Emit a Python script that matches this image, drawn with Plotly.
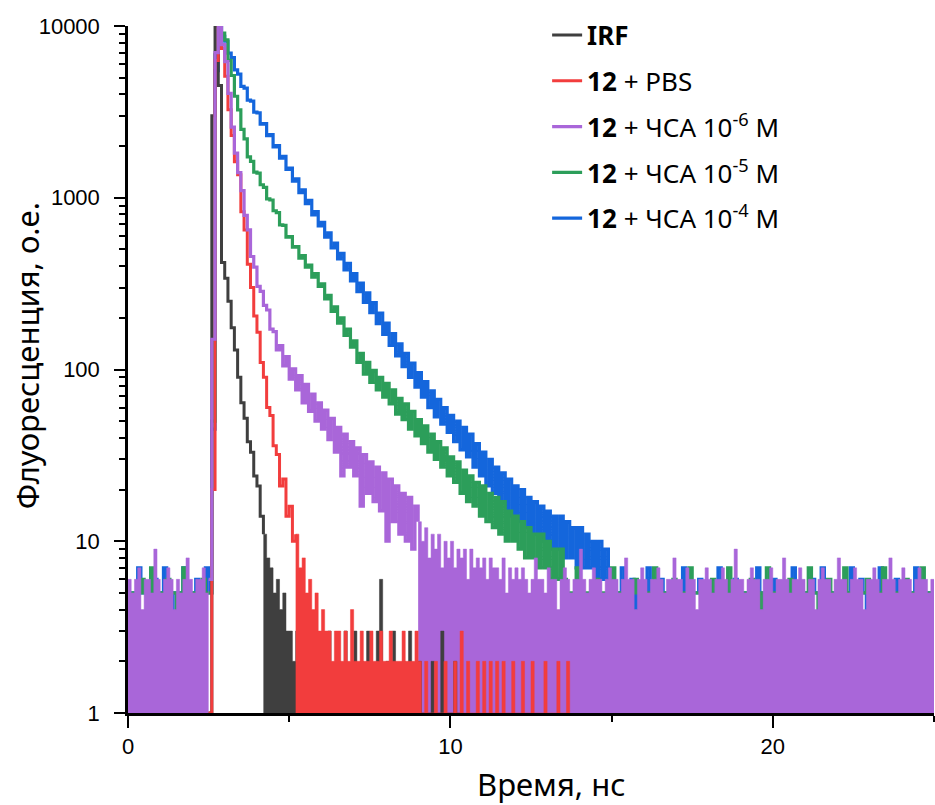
import plotly.graph_objects as go

# time step of the decay channels (ns)
step = 0.1

# purple: 12 + HSA 1e-6 M (background before the pulse, decay, long tail)
purple_pre_t0 = 0.0
purple_pre = [6, 5, 6, 7, 4, 6, 6, 5, 9, 6, 5, 6, 7, 6, 4, 6, 5, 6, 8, 6, 5, 6, 6, 7, 5, 6]
purple_decay_t0 = 2.5
purple_decay = [6, 150, 7000, 10000, 7800, 6200, 4050, 2580, 1820, 1400,
                1100, 790, 650, 455, 395, 305, 285, 236, 222, 172,
                166, 130, 138, 105, 119, 88, 101, 76, 92, 64,
                82, 57, 72, 50, 64, 45, 58, 39, 52, 33,
                46, 24, 42, 27, 38, 24, 35, 16, 32, 19,
                29, 17, 27, 15, 25, 10, 23, 13, 21, 11,
                19, 10, 18, 9, 16, 13]
purple_tail_t0 = 9.0
purple_tail = [13, 10, 12, 8, 11, 9, 11, 7, 10, 8, 10, 7, 9, 8, 9, 6, 9, 7, 8, 7,
               8, 6, 8, 7, 7, 6, 8, 5, 7, 6, 7,
               6, 7, 6, 5, 6, 8, 6, 6, 5, 7, 6, 6, 4, 6, 7, 6, 5, 6, 6, 9, 6, 5, 6, 7, 6, 6, 5, 6, 7, 6,
               6, 5, 6, 8, 6, 6, 4, 6, 7, 6, 5, 6, 6, 7, 6, 5, 6, 6, 8, 6, 6, 5, 7, 6, 6, 4, 6, 6, 7, 6,
               5, 6, 6, 7, 6, 5, 6, 9, 6, 6, 5, 6, 7, 6, 6, 4, 6, 6, 7, 5, 6, 6, 8, 6, 5, 6, 6, 7, 6, 5,
               6, 6, 4, 6, 7, 6, 6, 5, 6, 8, 6, 6, 5, 6, 7, 6, 6, 4, 6, 6, 7, 6, 5, 6, 6, 8, 6, 5, 6, 7,
               6, 6, 5, 6, 7, 6, 6, 5, 6, 6]

# blue: 12 + HSA 1e-4 M
blue_pre_t0 = 0.0
blue_pre = [5, 4, 5, 7, 5, 5, 4, 5, 6, 5, 5, 7, 5, 4, 5, 5, 5, 7, 5, 4, 5, 6, 5, 5, 7, 5]
blue_decay_t0 = 2.6
blue_decay = [45, 5500, 10000, 8700, 8150, 6950, 6550, 5550, 5250, 4450,
              4350, 3700, 3650, 3150, 3120, 2680, 2700, 2300, 2330, 1980,
              2010, 1700, 1740, 1460, 1490, 1250, 1290, 1070, 1110, 925,
              965, 795, 830, 685, 720, 590, 625, 510, 545, 440,
              475, 380, 415, 328, 362, 284, 318, 246, 279, 214,
              245, 185, 213, 160, 186, 138, 162, 120, 141, 104,
              124, 90, 109, 79, 96, 69, 85, 60, 75, 53,
              67, 48, 60, 43, 54, 38, 50, 34, 46, 31,
              42, 27, 37, 24, 33, 21, 30, 19, 27, 17,
              25, 15, 23, 14, 21, 13, 20, 12, 18, 11,
              17, 10, 16, 10, 15, 9, 14, 9, 14, 8,
              13, 8, 12, 7, 12, 7, 11, 7, 10, 6,
              10, 6, 9, 6]
blue_tail_t0 = 15.0
blue_tail = [5, 4, 5, 7, 5, 5, 6, 4, 5, 5, 5, 7, 5, 4, 5, 6, 5, 5, 4, 5,
             5, 5, 7, 5, 4, 5, 5, 6, 5, 5, 4, 5, 5, 7, 5, 5, 4, 5, 6, 5,
             5, 4, 5, 5, 5, 7, 5, 5, 4, 5, 6, 5, 5, 4, 5, 5, 7, 5, 5, 5,
             4, 5, 6, 5, 5, 7, 5, 4, 5, 5, 5, 5, 4, 5, 7, 5, 5, 6, 5, 4,
             5, 5, 5, 7, 5, 4, 5, 5, 6, 5, 5, 4, 5, 5, 7, 5, 5, 5, 4, 5, 5]

# green: 12 + HSA 1e-5 M
green_pre_t0 = 0.0
green_pre = [5, 5, 4, 5, 6, 5, 5, 7, 5, 4, 5, 5, 6, 5, 5, 4, 5, 7, 5, 5, 4, 5, 5, 6, 5, 5]
green_decay_t0 = 2.6
green_decay = [50, 6800, 10000, 9100, 8300, 6300, 5150, 3900, 3250, 2500,
               2200, 1730, 1630, 1410, 1390, 1190, 1150, 985, 970, 840,
               820, 695, 690, 590, 595, 515, 520, 445, 460, 395,
               405, 345, 362, 305, 315, 258, 270, 218, 232, 186,
               200, 158, 172, 135, 147, 110, 124, 94, 110, 84,
               99, 76, 90, 69, 83, 63, 76, 55, 68, 51,
               63, 45, 57, 41, 51, 37, 47, 33, 42, 30,
               38, 27, 35, 24, 31, 22, 29, 19, 26, 17,
               24, 16, 22, 14, 21, 13, 19, 12, 18, 11,
               17, 10, 15, 10, 14, 9, 13, 8, 12, 8,
               11, 7, 11, 7, 10, 6, 9, 6, 9, 6]
green_tail_t0 = 13.6
green_tail = [5, 4, 5, 7, 5, 5, 4, 5, 5, 6, 5, 4, 5, 5, 7, 5, 5, 4, 5, 5,
              5, 6, 5, 4, 5, 5, 5, 7, 5, 5, 4, 5, 5, 6, 5, 5, 4, 5, 7, 5,
              5, 5, 4, 5, 5, 6, 5, 5, 4, 5, 7, 5, 5, 5, 4, 5, 5, 6, 5, 5,
              4, 5, 7, 5, 5, 5, 4, 5, 5, 6, 5, 5, 4, 5, 5, 7, 5, 5, 4, 5,
              5, 6, 5, 5, 4, 5, 7, 5, 5, 5, 4, 5, 5, 6, 5, 5, 4, 5, 7, 5,
              5, 5, 4, 5, 5, 6, 5, 5, 4, 5, 7, 5, 5, 4, 5]

# red: 12 + PBS
red_decay_t0 = 2.5
red_decay = [1, 20, 6300, 10000, 7400, 5100, 3250, 2300, 1620, 1360, 830,
             650, 410, 300, 205, 165, 110, 90, 60, 54, 36,
             32, 21, 23, 14, 16, 10, 11]
red_tail_t0 = 5.2
red_tail = [11, 7, 8, 5, 6, 4, 5, 3, 4, 3, 3, 2, 3, 3, 2, 3, 2, 4, 2, 2,
            3, 2, 2, 3, 2, 2, 3, 2, 2, 3, 2, 2, 2, 3, 2, 2, 2, 3, 2, 1,
            2, 1, 1, 2, 1, 1, 2, 1, 1, 2, 1, 3, 1, 2, 1, 1, 2, 1, 2, 1,
            2, 1, 2, 1, 2, 1, 1, 2, 1, 1, 2, 1, 1, 2, 1, 1, 1, 2, 1, 1,
            1, 2, 1, 1, 2, 1]

# IRF (instrument response function)
irf_decay_t0 = 2.5
irf_decay = [1, 3000, 10000, 4500, 420, 340, 250, 175, 130, 90, 64, 52, 38, 33, 24, 21, 14, 11]
irf_tail_t0 = 4.2
irf_tail = [11, 8, 7, 5, 6, 4, 5, 3, 3, 2, 3, 1, 2, 1, 1, 3, 1, 1, 2, 1,
            3, 1, 1, 2, 1, 3, 1, 1, 3, 1, 2, 1, 3, 1, 1, 3, 6, 1, 2, 1,
            3, 1, 1, 2, 1, 3, 1, 1, 2, 1, 1, 1, 2, 1, 1, 3, 1, 1, 1, 2,
            1, 1, 1]

x_ticks = [0, 10, 20]
x_minor = [5, 15, 25]
y_ticks = [1, 10, 100, 1000, 10000]
y_minor = [m * d for d in [1, 10, 100, 1000] for m in range(2, 10)]

c_irf = '#3f3f3f'
c_red = '#f23d3d'
c_purple = '#a966d9'
c_green = '#2c9e5a'
c_blue = '#1466dc'


def times(t0, n):
    return [round(t0 + step * i, 2) for i in range(n)]


fig = go.Figure()

# blue and green drawn first (under the purple background)
fig.add_trace(go.Scatter(x=times(blue_pre_t0, len(blue_pre)) + times(blue_decay_t0, len(blue_decay)) + times(blue_tail_t0, len(blue_tail)),
                         y=blue_pre + blue_decay + blue_tail, mode='lines', line=dict(color=c_blue, width=3.2, shape='hv'),
                         name='<b>12</b> + ЧСА 10<sup>-4</sup> M', legendgroup='blue', legendrank=5))
fig.add_trace(go.Scatter(x=times(green_pre_t0, len(green_pre)) + times(green_decay_t0, len(green_decay)) + times(green_tail_t0, len(green_tail)),
                         y=green_pre + green_decay + green_tail, mode='lines', line=dict(color=c_green, width=3.2, shape='hv'),
                         name='<b>12</b> + ЧСА 10<sup>-5</sup> M', legendgroup='green', legendrank=4))

# background parts of the counts that reach zero -> filled down to the axis
fig.add_trace(go.Scatter(x=times(purple_pre_t0, len(purple_pre)), y=purple_pre, mode='lines', line=dict(color=c_purple, width=0.5, shape='hv'),
                         fill='tozeroy', fillcolor=c_purple, showlegend=False, legendgroup='purple'))
fig.add_trace(go.Scatter(x=times(purple_tail_t0, len(purple_tail)), y=purple_tail, mode='lines', line=dict(color=c_purple, width=0.5, shape='hv'),
                         fill='tozeroy', fillcolor=c_purple, showlegend=False, legendgroup='purple'))
fig.add_trace(go.Scatter(x=times(irf_tail_t0, len(irf_tail)), y=irf_tail, mode='lines', line=dict(color=c_irf, width=0.5, shape='hv'),
                         fill='tozeroy', fillcolor=c_irf, showlegend=False, legendgroup='irf'))
fig.add_trace(go.Scatter(x=times(red_tail_t0, len(red_tail)), y=red_tail, mode='lines', line=dict(color=c_red, width=0.5, shape='hv'),
                         fill='tozeroy', fillcolor=c_red, showlegend=False, legendgroup='red'))

# decays
fig.add_trace(go.Scatter(x=times(irf_decay_t0, len(irf_decay)), y=irf_decay, mode='lines', line=dict(color=c_irf, width=3, shape='hv'),
                         name='<b>IRF</b>', legendgroup='irf', legendrank=1))
fig.add_trace(go.Scatter(x=times(red_decay_t0, len(red_decay)), y=red_decay, mode='lines', line=dict(color=c_red, width=3, shape='hv'),
                         name='<b>12</b> + PBS', legendgroup='red', legendrank=2))
fig.add_trace(go.Scatter(x=times(purple_decay_t0, len(purple_decay)), y=purple_decay, mode='lines', line=dict(color=c_purple, width=3.2, shape='hv'),
                         name='<b>12</b> + ЧСА 10<sup>-6</sup> M', legendgroup='purple', legendrank=3))

fig.update_xaxes(range=[0, 25], tickvals=x_ticks, ticktext=[str(v) for v in x_ticks],
                 ticks='outside', ticklen=12, tickwidth=2, tickcolor='black',
                 minor=dict(tickvals=x_minor, ticks='outside', ticklen=6, tickwidth=2, tickcolor='black'),
                 showline=True, linecolor='black', linewidth=2.5, showgrid=False, zeroline=False,
                 tickfont=dict(family='Liberation Sans', size=22, color='black'))
fig.update_yaxes(type='log', range=[0, 4], tickvals=y_ticks, ticktext=[str(v) for v in y_ticks],
                 ticks='outside', ticklen=11, tickwidth=2, tickcolor='black', ticklabelstandoff=10,
                 minor=dict(tickvals=y_minor, ticks='outside', ticklen=6, tickwidth=2, tickcolor='black'),
                 showline=True, linecolor='black', linewidth=2.5, showgrid=False, zeroline=False,
                 tickfont=dict(family='Liberation Sans', size=22, color='black'))

# axis titles
fig.add_annotation(text='Время, нс', xref='paper', yref='paper', x=0.525, y=-0.104, xanchor='center', yanchor='middle',
                   showarrow=False, font=dict(family='Noto Sans', size=31, color='black'))
fig.add_annotation(text='Флуоресценция, о.е.', xref='paper', yref='paper', x=-0.126, y=0.52, xanchor='center', yanchor='middle',
                   textangle=-90, showarrow=False, font=dict(family='Noto Sans', size=31, color='black'))

fig.update_layout(width=935, height=805, margin=dict(l=128, r=1, t=26, b=92, autoexpand=False),
                  paper_bgcolor='white', plot_bgcolor='white',
                  legend=dict(x=0.52, y=1.021, xanchor='left', yanchor='top', traceorder='grouped', tracegroupgap=9,
                              bgcolor='rgba(0,0,0,0)', font=dict(family='Noto Sans', size=26, color='black')))

# page body has a default margin that would push the figure off the window
fig.write_html('out.html', config={'displayModeBar': False}, post_script="document.body.style.margin='0px';")
